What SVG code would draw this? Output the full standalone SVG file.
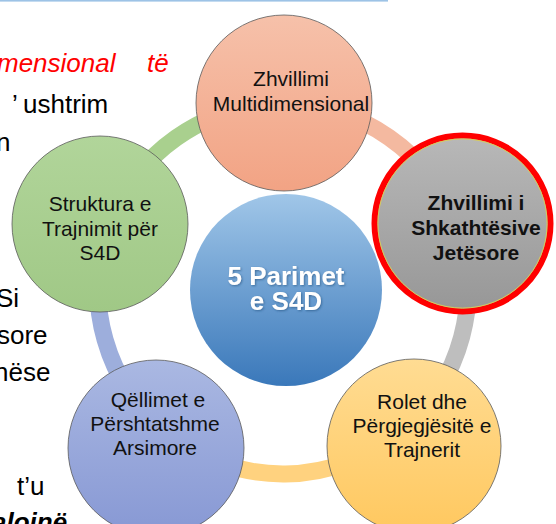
<svg xmlns="http://www.w3.org/2000/svg" width="556" height="524" viewBox="0 0 556 524">
<defs>
<linearGradient id="gSalmon" x1="0" y1="0" x2="0" y2="1"><stop offset="0" stop-color="#F6C1AA"/><stop offset="1" stop-color="#F2A384"/></linearGradient>
<linearGradient id="gGray" x1="0" y1="0" x2="0" y2="1"><stop offset="0" stop-color="#B8B8B8"/><stop offset="1" stop-color="#979797"/></linearGradient>
<linearGradient id="gYellow" x1="0" y1="0" x2="0" y2="1"><stop offset="0" stop-color="#FFDC93"/><stop offset="1" stop-color="#FFC85F"/></linearGradient>
<linearGradient id="gBlue" x1="0" y1="0" x2="0" y2="1"><stop offset="0" stop-color="#AAB8E2"/><stop offset="1" stop-color="#8798D4"/></linearGradient>
<linearGradient id="gGreen" x1="0" y1="0" x2="0" y2="1"><stop offset="0" stop-color="#B1D59A"/><stop offset="1" stop-color="#A0C886"/></linearGradient>
<linearGradient id="gCenter" x1="0" y1="0" x2="0" y2="1"><stop offset="0" stop-color="#A0C6E8"/><stop offset="1" stop-color="#3A78BA"/></linearGradient>
<filter id="tshadow" x="-10%" y="-10%" width="120%" height="130%"><feDropShadow dx="1" dy="1" stdDeviation="0.8" flood-color="#1F4E79" flood-opacity="0.6"/></filter>
</defs>
<style>
.doc{font-family:"Liberation Sans",Arial,sans-serif;font-size:26px;fill:#000}
.red{fill:#FF0000;font-style:italic}
.node{stroke:#5A5A5A;stroke-width:0.8}
.lbl{font-family:"Liberation Sans",Arial,sans-serif;font-size:21px;fill:#111;text-anchor:middle}
.bold{font-weight:bold}
.ring{fill:none;stroke-width:17}
.ctr{font-family:"Liberation Sans",Arial,sans-serif;font-size:26px;font-weight:bold;fill:#fff;text-anchor:middle}
</style>
<rect width="556" height="524" fill="#fff"/>
<rect x="0" y="0" width="388" height="1.6" fill="#9DC3E6"/>
<g id="background-text">
<text class="doc red" x="-3" y="72">mensional</text>
<text class="doc red" x="147" y="72">të</text>
<text class="doc" x="12" y="113">’</text>
<text class="doc" x="23" y="113">ushtrim</text>
<text class="doc" x="-4" y="151">n</text>
<text class="doc" x="-4" y="307">Si</text>
<text class="doc" x="-3" y="344">sore</text>
<text class="doc" x="-6" y="381">nëse</text>
<text class="doc" x="17" y="495">t’u</text>
<text class="doc" x="-8" y="531" font-weight="bold" font-style="italic">aloinë</text>
</g>
<g id="connectors">
<path class="ring" stroke="#F4B9A0" d="M 283 104 A 185 185 0 0 1 456.8 225.7"/>
<path class="ring" stroke="#BEBEBE" d="M 456.8 225.7 A 185 185 0 0 1 401.9 430.7"/>
<path class="ring" stroke="#FFD27F" d="M 401.9 430.7 A 185 185 0 0 1 167.6 433.6"/>
<path class="ring" stroke="#9DAEDC" d="M 167.6 433.6 A 185 185 0 0 1 108.7 226.9"/>
<path class="ring" stroke="#A9D08E" d="M 108.7 226.9 A 185 185 0 0 1 283 104"/>
</g>
<g id="center">
<circle cx="286" cy="290" r="96" fill="url(#gCenter)"/>
<g filter="url(#tshadow)">
<text class="ctr" x="286" y="285">5 Parimet</text>
<text class="ctr" x="286" y="310">e S4D</text>
</g>
</g>
<g id="n1">
<circle class="node" cx="284" cy="103" r="88" fill="url(#gSalmon)"/>
<text class="lbl" x="291" y="86">Zhvillimi</text>
<text class="lbl" x="291" y="111">Multidimensional</text>
</g>
<g id="n2">
<circle cx="462.5" cy="223.5" r="88" fill="url(#gGray)" stroke="#FF0000" stroke-width="6"/>
<circle cx="462.5" cy="223.5" r="84.6" fill="none" stroke="#D8CC5A" stroke-width="1"/>
<text class="lbl bold" x="476" y="210">Zhvillimi i</text>
<text class="lbl bold" x="476" y="235">Shkathtësive</text>
<text class="lbl bold" x="476" y="260">Jetësore</text>
</g>
<g id="n3">
<circle class="node" cx="414" cy="446" r="87" fill="url(#gYellow)"/>
<text class="lbl" x="422" y="409">Rolet dhe</text>
<text class="lbl" x="422" y="433">Përgjegjësitë e</text>
<text class="lbl" x="422" y="457">Trajnerit</text>
</g>
<g id="n4">
<circle class="node" cx="156" cy="448" r="88" fill="url(#gBlue)"/>
<text class="lbl" x="158" y="407">Qëllimet e</text>
<text class="lbl" x="155" y="431">Përshtatshme</text>
<text class="lbl" x="155" y="455">Arsimore</text>
</g>
<g id="n5">
<circle class="node" cx="100" cy="224" r="88" fill="url(#gGreen)"/>
<text class="lbl" x="100" y="211">Struktura e</text>
<text class="lbl" x="100" y="236">Trajnimit për</text>
<text class="lbl" x="100" y="260">S4D</text>
</g>
</svg>
